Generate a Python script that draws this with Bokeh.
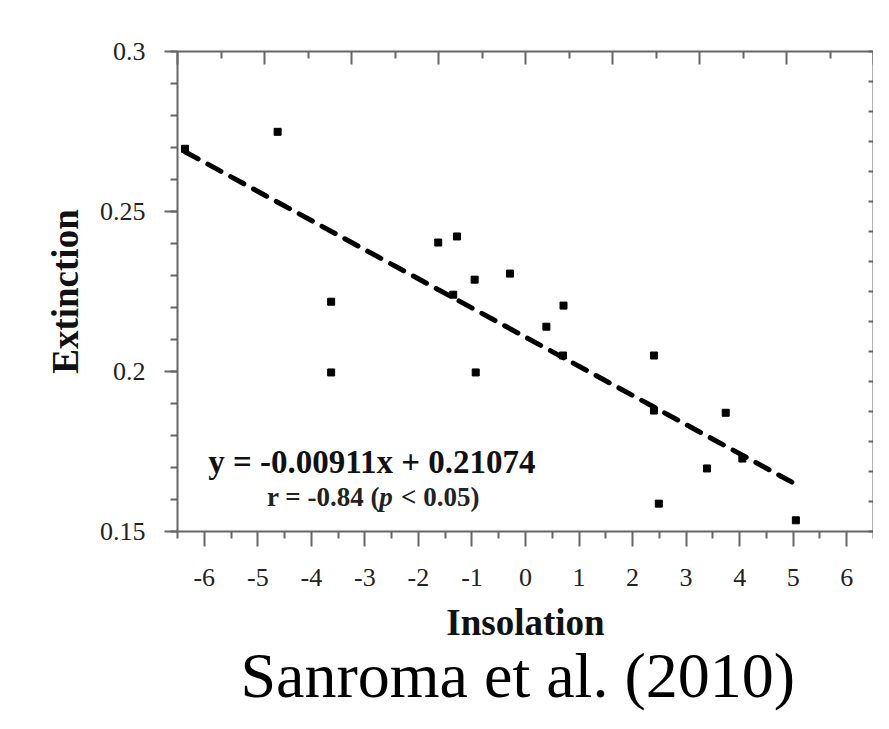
from bokeh.plotting import figure
from bokeh.models import LinearAxis, FixedTicker, Label, Range1d, Title
from bokeh.embed import file_html
from bokeh.resources import INLINE

# ---- data ----
insolation = [-6.36, -4.63, -3.63, -3.63, -1.63, -1.28, -1.35, -0.95, -0.93, -0.29,
              0.39, 0.71, 0.70, 2.40, 2.40, 2.49, 3.39, 3.74, 4.05, 5.05]
extinction = [0.2696, 0.2749, 0.2218, 0.1997, 0.2403, 0.2422, 0.2240, 0.2287, 0.1997, 0.2306,
              0.2140, 0.2206, 0.2050, 0.2050, 0.1878, 0.1587, 0.1697, 0.1871, 0.1728, 0.1535]

fit_slope = -0.00911
fit_intercept = 0.21074
fit_x = [-6.36, 5.13]
fit_y = [fit_slope * v + fit_intercept for v in fit_x]

x_ticks = list(range(-6, 7))
x_tick_labels = [str(t) for t in x_ticks]
x_minor = [t + 0.5 for t in range(-7, 7)]
y_ticks = [0.15, 0.2, 0.25, 0.3]
y_tick_labels = ["0.15", "0.2", "0.25", "0.3"]
y_minor = [round(0.15 + 0.01 * k, 2) for k in range(16)]

equation_text = "y = -0.00911x + 0.21074"
r_text_left = "r = -0.84 ("
r_text_p = "p"
r_text_right = "< 0.05)"
caption = "Sanroma et al. (2010)"
x_label = "Insolation"
y_label = "Extinction"

X0, X1 = -6.5, 6.5
Y0, Y1 = 0.15, 0.3

# layout (pixels)
W, H = 873, 713
FL, FT, FB, FR = 177, 51, 531, 868   # frame edges on the canvas

def sx_to_x(px):
    return X0 + (px - FL) / (FR - FL) * (X1 - X0)

def sy_to_y(py):
    return Y1 - (py - FT) / (FB - FT) * (Y1 - Y0)

SERIF = "Liberation Serif"
AX = "#666666"

p = figure(width=W, height=H, x_range=Range1d(X0, X1), y_range=Range1d(Y0, Y1),
           output_backend="svg", toolbar_location=None,
           min_border_left=FL, min_border_right=0, min_border_top=FT, min_border_bottom=H - FB)
p.outline_line_color = None
p.xgrid.visible = False
p.ygrid.visible = False
p.background_fill_color = "white"
p.border_fill_color = "white"

# bottom axis
xa = p.xaxis[0]
xa.ticker = FixedTicker(ticks=x_ticks, minor_ticks=x_minor)
xa.major_label_overrides = {t: l for t, l in zip(x_ticks, x_tick_labels)}
xa.axis_label = x_label
# left axis
ya = p.yaxis[0]
ya.ticker = FixedTicker(ticks=y_ticks, minor_ticks=y_minor)
ya.major_label_overrides = {t: l for t, l in zip(y_ticks, y_tick_labels)}
ya.axis_label = y_label

for ax, tick_len, minor_len in ((xa, 15, 7), (ya, 13, 7)):
    ax.axis_line_color = AX
    ax.axis_line_width = 2
    ax.major_tick_line_color = AX
    ax.major_tick_line_width = 2
    ax.minor_tick_line_color = AX
    ax.minor_tick_line_width = 2
    ax.major_tick_in = 0
    ax.major_tick_out = tick_len
    ax.minor_tick_in = 0
    ax.minor_tick_out = minor_len
    ax.major_label_text_font = SERIF
    ax.major_label_text_font_size = "26px"
    ax.major_label_text_color = "#222222"
    ax.axis_label_text_font = SERIF
    ax.axis_label_text_font_style = "bold"
    ax.axis_label_text_font_size = "37px"
    ax.axis_label_text_color = "#111111"
xa.major_label_standoff = 22
xa.axis_label_standoff = 13
ya.major_label_standoff = 19
ya.axis_label_standoff = 11

# top axis: 16 divisions of the frame, inward ticks, no labels
top_all = [X0 + (X1 - X0) * k / 16 for k in range(17)]
top_major = top_all[0::2]
top_minor = top_all[1::2]
ta = LinearAxis(ticker=FixedTicker(ticks=top_major, minor_ticks=top_minor),
                major_label_overrides={t: "" for t in top_major})
# right axis: 16 divisions, inward ticks
right_all = [Y0 + (Y1 - Y0) * k / 16 for k in range(17)]
ra = LinearAxis(ticker=FixedTicker(ticks=right_all, minor_ticks=[]),
                major_label_overrides={t: "" for t in right_all})
for ax, tin, mtin in ((ta, 13, 7), (ra, 5, 0)):
    ax.axis_line_color = AX
    ax.axis_line_width = 2
    ax.major_tick_line_color = AX
    ax.major_tick_line_width = 2
    ax.minor_tick_line_color = AX
    ax.minor_tick_line_width = 2
    ax.major_tick_in = tin
    ax.major_tick_out = 0
    ax.minor_tick_in = mtin
    ax.minor_tick_out = 0
    ax.major_label_standoff = 0
    ax.major_label_text_font_size = "1px"
p.add_layout(ta, "above")
p.add_layout(ra, "right")

# regression line
p.line(fit_x, fit_y, line_color="black", line_width=5, line_dash="15 11", line_cap="round")
# data points
p.scatter(insolation, extinction, marker="square", size=7, color="black")

# annotations
p.add_layout(Label(x=sx_to_x(370), y=sy_to_y(461), text=equation_text, text_align="center",
                   text_baseline="middle", text_font=SERIF, text_font_style="bold",
                   text_font_size="33px", text_color="#111111"))
ry = sy_to_y(496)
p.add_layout(Label(x=sx_to_x(378), y=ry, text=r_text_left, text_align="right",
                   text_baseline="middle", text_font=SERIF, text_font_style="bold",
                   text_font_size="27px", text_color="#222222"))
p.add_layout(Label(x=sx_to_x(384), y=ry, text=r_text_p, text_align="center",
                   text_baseline="middle", text_font=SERIF, text_font_style="bold italic",
                   text_font_size="27px", text_color="#222222"))
p.add_layout(Label(x=sx_to_x(399), y=ry, text=r_text_right, text_align="left",
                   text_baseline="middle", text_font=SERIF, text_font_style="bold",
                   text_font_size="27px", text_color="#222222"))

cap = Title(text=caption, align="left", offset=240 - FL, standoff=-15,
            text_font=SERIF, text_font_style="normal", text_font_size="64px",
            text_color="black")
p.add_layout(cap, "below")

open("out.html", "w").write(file_html(p, INLINE))
